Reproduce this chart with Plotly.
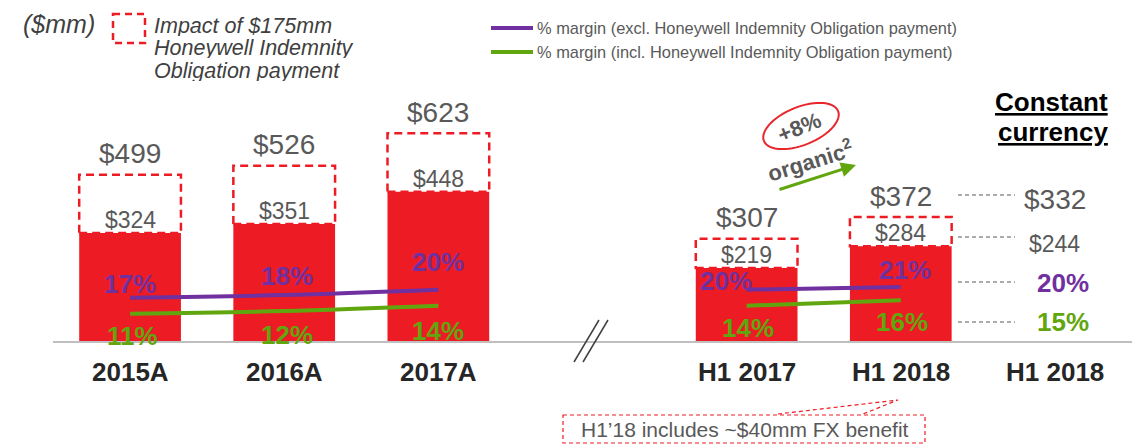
import math
import plotly.graph_objects as go

# ---------------- data ----------------
categories = ["2015A", "2016A", "2017A", "H1 2017", "H1 2018"]
cat_pos = [0, 1, 2, 4, 5]
ebitda_incl = [324, 351, 448, 219, 284]      # solid red bars
ebitda_excl = [499, 526, 623, 307, 372]      # dashed box totals
margin_excl = [17, 18, 20, 20, 21]           # purple line (%)
margin_incl = [11, 12, 14, 14, 16]           # green line (%)
cc_label = "H1 2018"
cc_pos = 6
cc_excl = 332
cc_incl = 244
cc_margin_excl = 20
cc_margin_incl = 15

# ---------------- styles ----------------
RED = "#ED1C24"
PURPLE = "#7030A0"
GREEN = "#62A60F"
GRAY = "#595959"
DARK = "#262626"
FONT = "Liberation Sans, Arial, sans-serif"

W, H = 1142, 446
ML, MR, MT, MB = 53, 10, 0, 105
PW, PH = W - ML - MR, H - MT - MB


def PX(x):
    return (x - ML) / PW


def PY(y):
    return (PH + MT - y) / PH


fig = go.Figure()

fig.add_trace(go.Bar(x=cat_pos, y=ebitda_incl, width=0.66, marker=dict(color=RED, line=dict(width=0)),
                     hoverinfo="skip", showlegend=False))

annual = slice(0, 3)
half = slice(3, 5)
for vals, col in [(margin_excl, PURPLE), (margin_incl, GREEN)]:
    for sl in (annual, half):
        fig.add_trace(go.Scatter(x=cat_pos[sl], y=vals[sl], yaxis="y2", mode="lines",
                                 line=dict(color=col, width=4, shape="spline"),
                                 hoverinfo="skip", showlegend=False))

shapes = []
annotations = []


def ann(**kw):
    kw.setdefault("showarrow", False)
    kw.setdefault("xanchor", "center")
    kw.setdefault("yanchor", "middle")
    annotations.append(kw)


# dashed boxes = impact of indemnity payment
for x, lo, hi in zip(cat_pos, ebitda_incl, ebitda_excl):
    shapes.append(dict(type="rect", xref="x", yref="y", x0=x - 0.33, x1=x + 0.33, y0=lo, y1=hi,
                       line=dict(color=RED, width=2.5, dash="8px,5px"), fillcolor="rgba(0,0,0,0)"))
    ann(x=x, y=hi, xref="x", yref="y", text=f"${hi}", yshift=21,
        font=dict(size=28, color=GRAY, family=FONT))
    ann(x=x, y=lo, xref="x", yref="y", text=f"${lo}", yshift=13,
        font=dict(size=23, color=GRAY, family=FONT))

# margin labels
p_shift = [14, 19, 28, 9, 17]
p_xshift = [0, 3, 0, -21, 4]
g_shift = [-22, -24, -25, -22, -22]
g_xshift = [2, 3, 0, 1, 1]
for i, x in enumerate(cat_pos):
    ann(x=x, y=margin_excl[i], xref="x", yref="y2", text=f"<b>{margin_excl[i]}%</b>",
        yshift=p_shift[i], xshift=p_xshift[i], font=dict(size=26, color=PURPLE, family=FONT))
    ann(x=x, y=margin_incl[i], xref="x", yref="y2", text=f"<b>{margin_incl[i]}%</b>",
        yshift=g_shift[i], xshift=g_xshift[i], font=dict(size=26, color=GREEN, family=FONT))

# category labels
for x, c in zip(cat_pos + [cc_pos], categories + [cc_label]):
    ann(x=x, y=PY(372), xref="x", yref="paper", text=f"<b>{c}</b>",
        font=dict(size=26, color=DARK, family=FONT))

# constant currency column
ann(x=PX(1110), y=PY(102), xref="paper", yref="paper", text="<b><u>Constant</u></b>", xanchor="right",
    font=dict(size=26, color="#000000", family=FONT))
ann(x=PX(1110), y=PY(132), xref="paper", yref="paper", text="<b><u>currency</u></b>", xanchor="right",
    font=dict(size=26, color="#000000", family=FONT))
cc_items = [
    (f"${cc_excl}", 200, 195, 28, GRAY, 0),
    (f"${cc_incl}", 244, 237, 23, GRAY, 0),
    (f"<b>{cc_margin_excl}%</b>", 283, 282, 26, PURPLE, 8),
    (f"<b>{cc_margin_incl}%</b>", 322, 322, 26, GREEN, 8),
]
for txt, ty, ly, fs, col, dx in cc_items:
    ann(x=cc_pos, y=PY(ty), xref="x", yref="paper", text=txt, xshift=dx,
        font=dict(size=fs, color=col, family=FONT))
    shapes.append(dict(type="line", xref="paper", yref="paper", x0=PX(958), x1=PX(1015), y0=PY(ly), y1=PY(ly),
                       line=dict(color=GRAY, width=1, dash="4px,3px")))

# axis break marks
for off in (0, 9):
    shapes.append(dict(type="line", xref="paper", yref="paper", x0=PX(574 + off), x1=PX(599 + off),
                       y0=PY(362), y1=PY(320), line=dict(color="#404040", width=1.5)))

# top-left legend
ann(x=PX(21), y=PY(24), xref="paper", yref="paper", text="<i>($mm)</i>", xanchor="left",
    font=dict(size=25, color="#404040", family=FONT))
shapes.append(dict(type="rect", xref="paper", yref="paper", x0=PX(113), x1=PX(145), y0=PY(14), y1=PY(43),
                   line=dict(color=RED, width=2.5, dash="7px,5px")))
for i, t in enumerate(["Impact of $175mm", "Honeywell Indemnity", "Obligation payment"]):
    ann(x=PX(152), y=PY(25 + 22.5 * i), xref="paper", yref="paper", text=f"<i>{t}</i>", xanchor="left",
        height=21, font=dict(size=21.5, color="#404040", family=FONT))

# top-right legend
for txt, col, y in [("% margin (excl. Honeywell Indemnity Obligation payment)", PURPLE, 28),
                    ("% margin (incl. Honeywell Indemnity Obligation payment)", GREEN, 52)]:
    shapes.append(dict(type="line", xref="paper", yref="paper", x0=PX(491), x1=PX(533), y0=PY(y), y1=PY(y),
                       line=dict(color=col, width=4)))
    ann(x=PX(535), y=PY(y), xref="paper", yref="paper", text=txt, xanchor="left",
        font=dict(size=16.4, color=GRAY, family=FONT))

# organic growth callout
cx, cy, a, b, phi = 801, 126, 40, 19, math.radians(22)
pts = []
for k in range(61):
    t = 2 * math.pi * k / 60
    ex, ey = a * math.cos(t), b * math.sin(t)
    X = cx + ex * math.cos(phi) + ey * math.sin(phi)
    Y = cy - ex * math.sin(phi) + ey * math.cos(phi)
    pts.append(f"{PX(X):.5f},{PY(Y):.5f}")
shapes.append(dict(type="path", xref="paper", yref="paper", path="M" + " L".join(pts) + " Z",
                   line=dict(color="#E8262C", width=2)))
ann(x=PX(799), y=PY(127), xref="paper", yref="paper", text="<b>+8%</b>", textangle=-22,
    font=dict(size=22, color=GRAY, family=FONT))
ann(x=PX(810), y=PY(160), xref="paper", yref="paper", text="<b>organic<sup>2</sup></b>", textangle=-17,
    font=dict(size=22, color=GRAY, family=FONT))
annotations.append(dict(x=PX(856), y=PY(165), xref="paper", yref="paper", ax=-78, ay=25, text="",
                        showarrow=True, arrowhead=2, arrowsize=1, arrowwidth=3, arrowcolor=GREEN))

# FX footnote
shapes.append(dict(type="rect", xref="paper", yref="paper", x0=PX(563), x1=PX(925), y0=PY(415), y1=PY(443),
                   line=dict(color=RED, width=1.2, dash="4px,3px")))
shapes.append(dict(type="path", xref="paper", yref="paper",
                   path=f"M{PX(778):.5f},{PY(414):.5f} L{PX(898):.5f},{PY(400):.5f} L{PX(863):.5f},{PY(414):.5f}",
                   line=dict(color=RED, width=1.2, dash="4px,3px")))
ann(x=PX(745), y=PY(429), xref="paper", yref="paper", text="H1\u201918 includes ~$40mm FX benefit",
    font=dict(size=21, color=GRAY, family=FONT))

fig.update_layout(
    width=W, height=H,
    margin=dict(l=ML, r=MR, t=MT, b=MB),
    paper_bgcolor="white", plot_bgcolor="white",
    xaxis=dict(range=[-0.5, 6.5], showticklabels=False, showgrid=False, zeroline=False,
               showline=True, linecolor="#BFBFBF", linewidth=1.5, ticks=""),
    yaxis=dict(range=[0, 1023], visible=False, showgrid=False, zeroline=False),
    yaxis2=dict(range=[0.75, 128.6], overlaying="y", visible=False, showgrid=False, zeroline=False),
    shapes=shapes, annotations=annotations,
    showlegend=False, hovermode=False,
)

fig.write_html("out.html", config={"displayModeBar": False, "staticPlot": True},
               post_script="document.body.style.margin='0px';document.body.style.padding='0px';")
